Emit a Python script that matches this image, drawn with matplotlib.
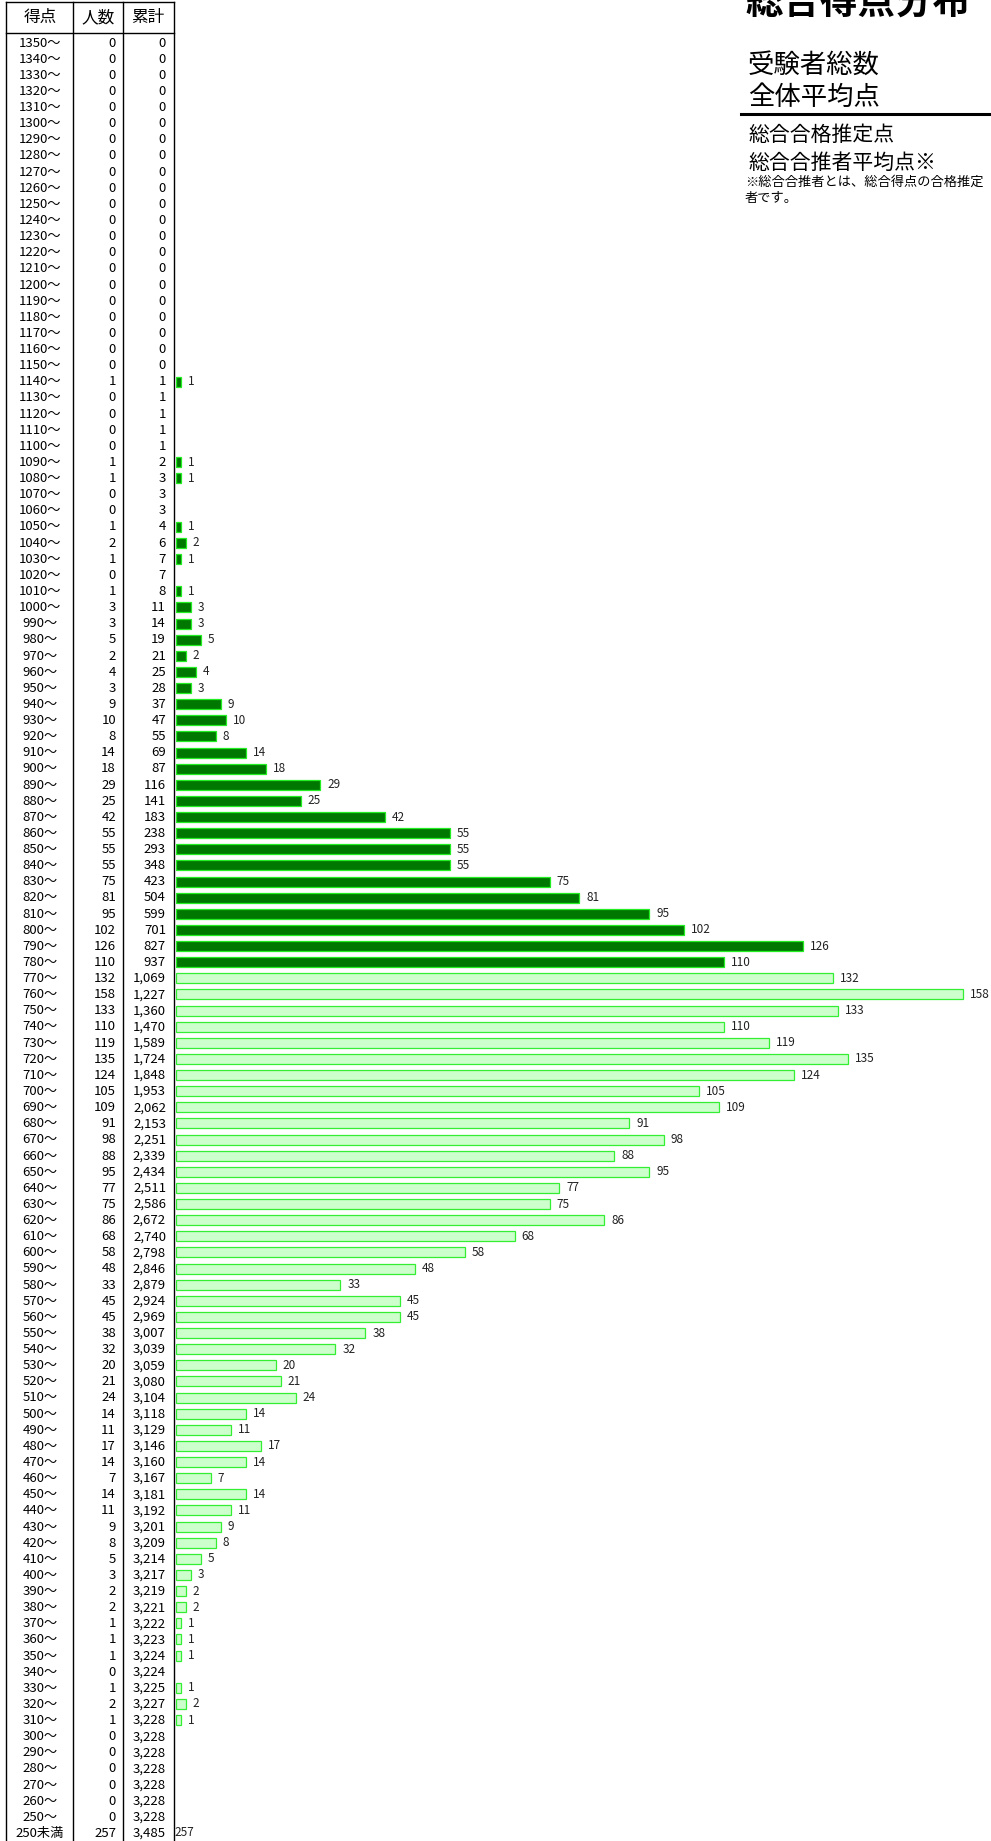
import matplotlib
matplotlib.use("Agg")
import matplotlib.pyplot as plt

plt.rcParams['font.family'] = ['Noto Sans CJK JP', 'DejaVu Sans']

# score bands, top to bottom (last row is "250未満")
scores = list(range(1350, 240, -10))
labels = [f"{s}～" for s in scores] + ["250未満"]

counts = [0] * 21 + [
    1, 0, 0, 0, 0, 1, 1, 0, 0, 1, 2, 1, 0, 1, 3, 3, 5, 2, 4, 3,
    9, 10, 8, 14, 18, 29, 25, 42, 55, 55, 55, 75, 81, 95, 102, 126, 110,
    132, 158, 133, 110, 119, 135, 124, 105, 109, 91, 98, 88, 95, 77, 75,
    86, 68, 58, 48, 33, 45, 45, 38, 32, 20, 21, 24, 14, 11, 17, 14, 7,
    14, 11, 9, 8, 5, 3, 2, 2, 1, 1, 1, 0, 1, 2, 1, 0, 0, 0, 0, 0, 0,
    257,
]

cumulative = [0] * 21 + [
    1, 1, 1, 1, 1, 2, 3, 3, 3, 4, 6, 7, 7, 8, 11, 14, 19, 21, 25, 28,
    37, 47, 55, 69, 87, 116, 141, 183, 238, 293, 348, 423, 504, 599, 701,
    827, 937, 1069, 1227, 1360, 1470, 1589, 1724, 1848, 1953, 2062, 2153,
    2251, 2339, 2434, 2511, 2586, 2672, 2740, 2798, 2846, 2879, 2924, 2969,
    3007, 3039, 3059, 3080, 3104, 3118, 3129, 3146, 3160, 3167, 3181, 3192,
    3201, 3209, 3214, 3217, 3219, 3221, 3222, 3223, 3224, 3224, 3225, 3227,
    3228, 3228, 3228, 3228, 3228, 3228, 3228, 3485,
]

pass_score = 780
headers = ["得点", "人数", "累計"]

W, H = 991, 1841
fig = plt.figure(figsize=(W / 100, H / 100), dpi=100)

# pixel-coordinate layer for the table and the side panel
tab = fig.add_axes([0, 0, 1, 1])
tab.set_xlim(0, W)
tab.set_ylim(H, 0)
tab.axis("off")

n = len(labels)
top = 35.0
row_h = 16.13
# bar area, one unit per row
ax = fig.add_axes([176 / W, 0, (W - 176) / W, (H - top) / H])
ax.set_ylim(n, 0)
ax.set_xlim(0, (W - 176) / 4.98)
ax.axis("off")

# table grid
for x in [6, 73, 123, 174]:
    tab.plot([x, x], [2, H], color="black", lw=1.0)
tab.plot([6, 174], [2, 2], color="black", lw=1.0)
tab.plot([6, 174], [33, 33], color="black", lw=1.0)

for hx, h in zip([40, 98, 148], headers):
    tab.text(hx, 17.5, h, ha="center", va="center", fontsize=12)

for i in range(n):
    y = top + row_h * (i + 0.5)
    tab.text(40, y, labels[i], ha="center", va="center", fontsize=9.5)
    tab.text(116, y, f"{counts[i]}", ha="right", va="center", fontsize=9.5)
    tab.text(166, y, f"{cumulative[i]:,}", ha="right", va="center", fontsize=9.5)

# bars
for i in range(n - 1):
    c = counts[i]
    if c == 0:
        continue
    if scores[i] >= pass_score:
        fc, ec = "#007700", "#22ee22"
    else:
        fc, ec = "#ccffcc", "#33ee33"
    ax.barh(i + 0.5, c, height=0.62, color=fc, edgecolor=ec, linewidth=0.9)
    ax.annotate(f"{c}", (c, i + 0.5), xytext=(5, 0), textcoords="offset points",
                ha="left", va="center", fontsize=8.5, color="#222222")

# "250未満" row: label only
ax.annotate(f"{counts[-1]}", (0, n - 0.5), xytext=(-1, 0), textcoords="offset points",
            ha="left", va="center", fontsize=8.5, color="#222222")

# side panel (title is cut by the page edge, as in the source)
tab.text(745, 14, "総合得点分布", ha="left", va="baseline", fontsize=27,
         fontweight="bold", style="italic")
tab.text(748, 65, "受験者総数", ha="left", va="center", fontsize=19, style="italic")
tab.text(748, 97, "全体平均点", ha="left", va="center", fontsize=19, style="italic")
tab.plot([741, W], [114, 114], color="black", lw=2.2)
tab.text(748, 135, "総合合格推定点", ha="left", va="center", fontsize=15, style="italic")
tab.text(748, 163, "総合合推者平均点※", ha="left", va="center", fontsize=15, style="italic")
tab.text(745, 182, "※総合合推者とは、総合得点の合格推定", ha="left", va="center", fontsize=9.5)
tab.text(745, 198, "者です。", ha="left", va="center", fontsize=9.5)

fig.savefig("out.png", dpi=100)
